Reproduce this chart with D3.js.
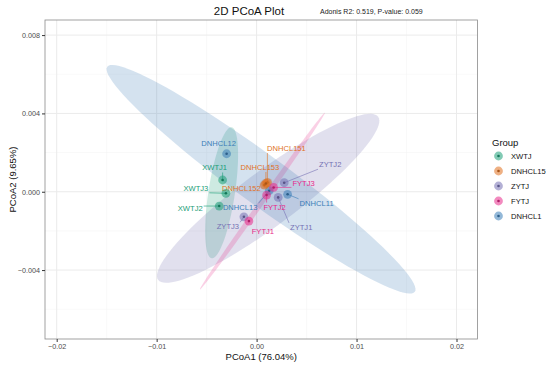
<!DOCTYPE html>
<html>
<head>
<meta charset="utf-8">
<script src="https://cdn.jsdelivr.net/npm/d3@7"></script>
<style>
  body { margin: 0; background: #fff; }
  svg { font-family: "Liberation Sans", Arial, sans-serif; }
</style>
</head>
<body>
<svg id="chart" width="550" height="367"></svg>
<script>
// sample ids, groups and coordinates (PCoA1, PCoA2)
var samples = ["XWTJ1", "XWTJ2", "XWTJ3", "DNHCL11", "DNHCL12", "DNHCL13",
               "DNHCL151", "DNHCL152", "DNHCL153", "ZYTJ1", "ZYTJ2", "ZYTJ3",
               "FYTJ1", "FYTJ2", "FYTJ3"];
var sampleGroup = ["XWTJ", "XWTJ", "XWTJ", "DNHCL1", "DNHCL1", "DNHCL1",
                   "DNHCL15", "DNHCL15", "DNHCL15", "ZYTJ", "ZYTJ", "ZYTJ",
                   "FYTJ", "FYTJ", "FYTJ"];
var pc1 = [-0.0034, -0.00374, -0.00307, 0.0031, -0.0030, 0.00126,
           0.00108, 0.00078, 0.00093, 0.00216, 0.00276, -0.00127,
           -0.00077, 0.0010, 0.0017];
var pc2 = [0.0006, -0.00073, -0.00008, -0.00013, 0.00194, 0.00005,
           0.00047, 0.00034, 0.00042, -0.00029, 0.00046, -0.00128,
           -0.0015, -0.00017, 0.00022];

var groups = ["XWTJ", "DNHCL15", "ZYTJ", "FYTJ", "DNHCL1"];
var groupColors = ["#1B9E77", "#E0701E", "#7570B3", "#E7298A", "#3A7DB8"];

// confidence ellipses: centre, end of major semi-axis, minor/major ratio
var ellCx   = [-0.0035, 0.00093, 0.00116, 0.00058, 0.000445];
var ellCy   = [-0.000056, 0.00042, -0.000337, -0.000475, 0.000638];
var ellTipX = [-0.0025, 0.00153, 0.01216, 0.00683, 0.01583];
var ellTipY = [0.00329, 0.000598, 0.00383, 0.00404, -0.00511];
var ellRatio = [0.2, 0.7, 0.2, 0.025, 0.13];

var xTicks = [-0.02, -0.01, 0, 0.01, 0.02];
var yTicks = [-0.004, 0, 0.004, 0.008];

// label nudges (px) from ggrepel layout
var labelDx = [-8, -29, -30, 29, -8, -29, 19, -23, -6, 23, 46, -16, 14, 8, 30];
var labelDy = [-12, 2, -5, 9, -10, 17, -34, 3, -16, 30, -18, 10, 10, 12, -4];

var svg = d3.select("#chart");
var margin = {left: 45, top: 20, right: 72.5, bottom: 28};
var W = 550, H = 367;

var x = d3.scaleLinear().domain([-0.02117, 0.0221]).range([margin.left, W - margin.right]);
var y = d3.scaleLinear().domain([-0.00752, 0.00877]).range([H - margin.bottom, margin.top]);

var color = d3.scaleOrdinal().domain(groups).range(groupColors);

// panel
var g = svg.append("g");
g.append("rect")
  .attr("x", x.range()[0]).attr("y", y.range()[1])
  .attr("width", x.range()[1] - x.range()[0])
  .attr("height", y.range()[0] - y.range()[1])
  .attr("fill", "#fff");

// minor grid
var xMinor = [-0.015, -0.005, 0.005, 0.015];
var yMinor = [-0.006, -0.002, 0.002, 0.006];
g.selectAll(".xminor").data(xMinor).enter().append("line")
  .attr("x1", d => x(d)).attr("x2", d => x(d))
  .attr("y1", y.range()[0]).attr("y2", y.range()[1])
  .attr("stroke", "#f2f2f2").attr("stroke-width", 0.5);
g.selectAll(".yminor").data(yMinor).enter().append("line")
  .attr("y1", d => y(d)).attr("y2", d => y(d))
  .attr("x1", x.range()[0]).attr("x2", x.range()[1])
  .attr("stroke", "#f2f2f2").attr("stroke-width", 0.5);
// major grid
g.selectAll(".xmajor").data(xTicks).enter().append("line")
  .attr("x1", d => x(d)).attr("x2", d => x(d))
  .attr("y1", y.range()[0]).attr("y2", y.range()[1])
  .attr("stroke", "#ebebeb").attr("stroke-width", 1);
g.selectAll(".ymajor").data(yTicks).enter().append("line")
  .attr("y1", d => y(d)).attr("y2", d => y(d))
  .attr("x1", x.range()[0]).attr("x2", x.range()[1])
  .attr("stroke", "#ebebeb").attr("stroke-width", 1);

// ellipses
var line = d3.line();
groups.forEach(function (grp, i) {
  var cx = x(ellCx[i]), cy = y(ellCy[i]);
  var ax = x(ellTipX[i]) - cx, ay = y(ellTipY[i]) - cy;
  var bx = -ay * ellRatio[i], by = ax * ellRatio[i];
  var pts = d3.range(0, 101).map(function (k) {
    var t = k / 100 * 2 * Math.PI;
    return [cx + ax * Math.cos(t) + bx * Math.sin(t), cy + ay * Math.cos(t) + by * Math.sin(t)];
  });
  g.append("path")
    .attr("d", line(pts) + "Z")
    .attr("fill", color(grp))
    .attr("fill-opacity", 0.22)
    .attr("stroke", "none");
});

// labels + segments
var labels = g.append("g");
samples.forEach(function (s, i) {
  var px = x(pc1[i]), py = y(pc2[i]);
  var lx = px + labelDx[i], ly = py + labelDy[i];
  var t = labels.append("text")
    .attr("x", lx).attr("y", ly)
    .attr("text-anchor", "middle")
    .attr("dominant-baseline", "central")
    .attr("font-size", "7.6px")
    .attr("fill", color(sampleGroup[i]))
    .text(s);
  var bb = t.node().getBBox();
  var ex = Math.max(bb.x - 1, Math.min(px, bb.x + bb.width + 1));
  var ey = Math.max(bb.y, Math.min(py, bb.y + bb.height));
  var d = Math.hypot(ex - px, ey - py);
  if (d > 6) {
    labels.insert("line", ":first-child")
      .attr("x1", px).attr("y1", py).attr("x2", ex).attr("y2", ey)
      .attr("stroke", color(sampleGroup[i]))
      .attr("stroke-width", 0.6);
  }
});

// points
samples.forEach(function (s, i) {
  var c = color(sampleGroup[i]);
  g.append("circle").attr("cx", x(pc1[i])).attr("cy", y(pc2[i]))
    .attr("r", 4.4).attr("fill", c).attr("fill-opacity", 0.55);
  g.append("circle").attr("cx", x(pc1[i])).attr("cy", y(pc2[i]))
    .attr("r", 1.3).attr("fill", d3.color(c).darker(0.8));
});

// border
g.append("rect")
  .attr("x", x.range()[0]).attr("y", y.range()[1])
  .attr("width", x.range()[1] - x.range()[0])
  .attr("height", y.range()[0] - y.range()[1])
  .attr("fill", "none").attr("stroke", "#8a8a8a").attr("stroke-width", 0.8);

// axes
var xAxis = svg.append("g")
  .attr("transform", "translate(0," + y.range()[0] + ")")
  .call(d3.axisBottom(x).tickValues(xTicks).tickSize(3).tickPadding(2)
    .tickFormat(d => d === 0 ? "0.00" : d3.format(".2f")(d)));
var yAxis = svg.append("g")
  .attr("transform", "translate(" + x.range()[0] + ",0)")
  .call(d3.axisLeft(y).tickValues(yTicks).tickSize(3).tickPadding(2)
    .tickFormat(d3.format(".3f")));
[xAxis, yAxis].forEach(function (a) {
  a.select(".domain").remove();
  a.selectAll(".tick line").attr("stroke", "#333");
  a.selectAll(".tick text").attr("fill", "#4d4d4d").attr("font-size", "7.2px")
    .attr("font-family", "Liberation Sans, Arial, sans-serif");
});

// titles
svg.append("text").attr("x", 249).attr("y", 15)
  .attr("text-anchor", "middle").attr("font-size", "11.5px").attr("fill", "#111")
  .text("2D PCoA Plot");
svg.append("text").attr("x", 320).attr("y", 14)
  .attr("font-size", "7px").attr("fill", "#222")
  .text("Adonis R2: 0.519, P-value: 0.059");
svg.append("text").attr("x", (x.range()[0] + x.range()[1]) / 2).attr("y", 360)
  .attr("text-anchor", "middle").attr("font-size", "9.5px").attr("fill", "#111")
  .text("PCoA1 (76.04%)");
svg.append("text")
  .attr("transform", "translate(16," + ((y.range()[0] + y.range()[1]) / 2) + ") rotate(-90)")
  .attr("text-anchor", "middle").attr("font-size", "9.5px").attr("fill", "#111")
  .text("PCoA2 (9.65%)");

// legend
var legend = svg.append("g").attr("transform", "translate(492,0)");
legend.append("text").attr("x", 0).attr("y", 146)
  .attr("font-size", "9.5px").attr("fill", "#111").text("Group");
groups.forEach(function (grp, i) {
  var yy = 156 + i * 15;
  legend.append("circle").attr("cx", 6.5).attr("cy", yy).attr("r", 4.4)
    .attr("fill", color(grp)).attr("fill-opacity", 0.55);
  legend.append("circle").attr("cx", 6.5).attr("cy", yy).attr("r", 1.3)
    .attr("fill", d3.color(color(grp)).darker(0.8));
  legend.append("text").attr("x", 19).attr("y", yy)
    .attr("dominant-baseline", "central")
    .attr("font-size", "7.6px").attr("fill", "#111").text(grp);
});
</script>
</body>
</html>
